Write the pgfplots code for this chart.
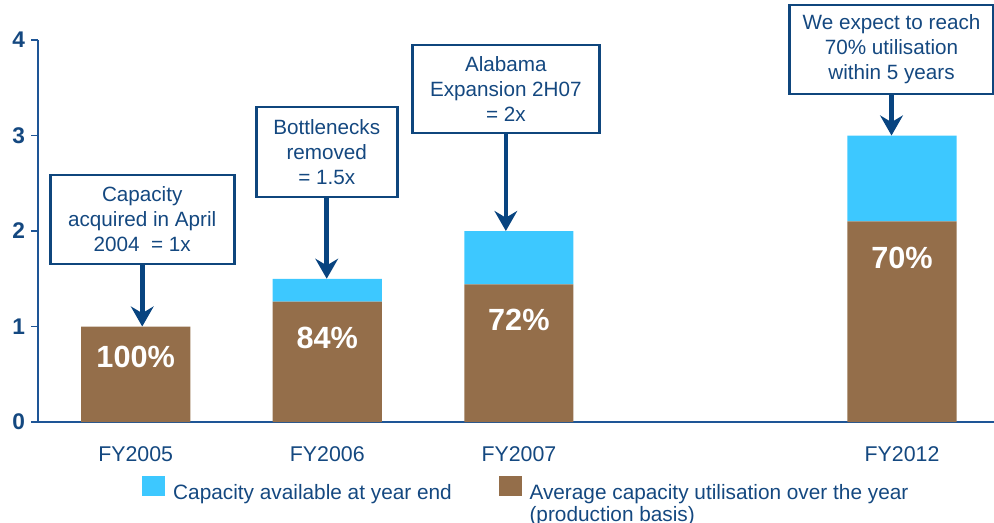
\documentclass[border=0pt]{standalone}
\usepackage{pgfplots}
\pgfplotsset{compat=1.18}
\usepackage{fontspec}
\setmainfont{Liberation Sans}
\usetikzlibrary{arrows.meta}
\definecolor{textblue}{RGB}{20,72,128}
\definecolor{axisblue}{RGB}{30,85,150}
\definecolor{arrowblue}{RGB}{8,68,128}
\definecolor{boxblue}{RGB}{15,70,125}
\definecolor{capcyan}{RGB}{61,200,255}
\definecolor{capbrown}{RGB}{148,110,74}
\pgfplotsset{sqlegend/.style={legend image code/.code={\fill[##1] (0pt,-2pt) rectangle (17.25pt,13pt);}}}
\tikzset{callout/.style={draw=boxblue, line width=2pt, fill=white, align=center, inner sep=0pt,
  font=\fontsize{15.5}{18.75}\selectfont, text=textblue},
  callarrow/.style={draw=arrowblue, line width=3.5pt, -{Stealth[length=15pt, width=17pt, inset=5pt]}},
  pct/.style={font=\fontsize{23}{27}\selectfont\bfseries, text=white}}
\begin{document}
\begin{tikzpicture}
\useasboundingbox (-28.5pt,-75pt) rectangle (717pt,316.5pt);
\begin{axis}[
  scale only axis, width=717pt, height=286.5pt,
  xmin=-0.51, xmax=4.48, ymin=0, ymax=4,
  axis x line=bottom, axis y line=left,
  axis line style={-, draw=axisblue, line width=1pt},
  ytick={0,1,2,3,4}, yticklabels={0,1,2,3,4},
  yticklabel style={font=\fontsize{17}{20}\selectfont\bfseries, text=textblue, inner sep=0pt, anchor=east, xshift=-4.5pt},
  ytick style={draw=axisblue, line width=1pt},
  tick align=outside, major tick length=5pt,
  xtick={0,1,2,4}, xticklabels={FY2005,FY2006,FY2007,FY2012},
  x tick style={draw=none},
  xticklabel style={font=\fontsize{16}{19}\selectfont, text=textblue, inner sep=0pt, anchor=north, yshift=-13pt},
  ybar stacked, bar width=0.57,
  clip=false,
  reverse legend,
  legend columns=2,
  legend style={draw=none, fill=none, inner sep=0pt, outer sep=0pt,
    at={(0.1090,-0.1414)}, anchor=north west,
    font=\fontsize{15.6}{19}\selectfont, text=textblue,
    nodes={inner sep=0pt, text=textblue},
    column sep=6pt,
    /tikz/every even column/.append style={column sep=35pt}},
]
\addplot[fill=capbrown, draw=none, sqlegend] coordinates {(0,1.0) (1,1.26) (2,1.44) (4,2.1)};
\addplot[fill=capcyan, draw=none, sqlegend] coordinates {(0,0) (1,0.24) (2,0.56) (4,0.9)};
\legend{{\smash{\makebox[0pt][l]{\raisebox{-16pt}{(production basis)}}}Average capacity utilisation over the year},Capacity available at year end}

\coordinate (p1) at (axis cs:0,0.68);
\coordinate (p2) at (axis cs:1,0.88);
\coordinate (p3) at (axis cs:2,1.068);
\coordinate (p4) at (axis cs:4,1.717);
\coordinate (c1) at (axis cs:0.034,2.120);
\coordinate (c2) at (axis cs:0.997,2.827);
\coordinate (c3) at (axis cs:1.932,3.487);
\coordinate (c4) at (axis cs:3.945,3.901);
\coordinate (t1) at (axis cs:0.034,1.0);
\coordinate (t2) at (axis cs:0.995,1.5);
\coordinate (t3) at (axis cs:1.997,2.0);
\coordinate (t4) at (axis cs:3.997,3.0);
\end{axis}
\node[pct] at (p1) {100\%};
\node[pct] at (p2) {84\%};
\node[pct] at (p3) {72\%};
\node[pct] at (p4) {70\%};
\node[callout, minimum width=138pt, minimum height=66.75pt] (b1) at (c1) {Capacity\\acquired in April\\2004\ \ = 1x};
\node[callout, minimum width=105.75pt, minimum height=67.5pt] (b2) at (c2) {Bottlenecks\\removed\\= 1.5x};
\node[callout, minimum width=140.25pt, minimum height=66pt] (b3) at (c3) {Alabama\\Expansion 2H07\\= 2x};
\node[callout, minimum width=153pt, minimum height=66.75pt] (b4) at (c4) {We expect to reach\\70\% utilisation\\within 5 years};
\draw[callarrow] (b1.south) -- (b1.south |- t1);
\draw[callarrow] (b2.south) -- (b2.south |- t2);
\draw[callarrow] (b3.south) -- (b3.south |- t3);
\draw[callarrow] (b4.south) -- (b4.south |- t4);
\end{tikzpicture}
\end{document}
